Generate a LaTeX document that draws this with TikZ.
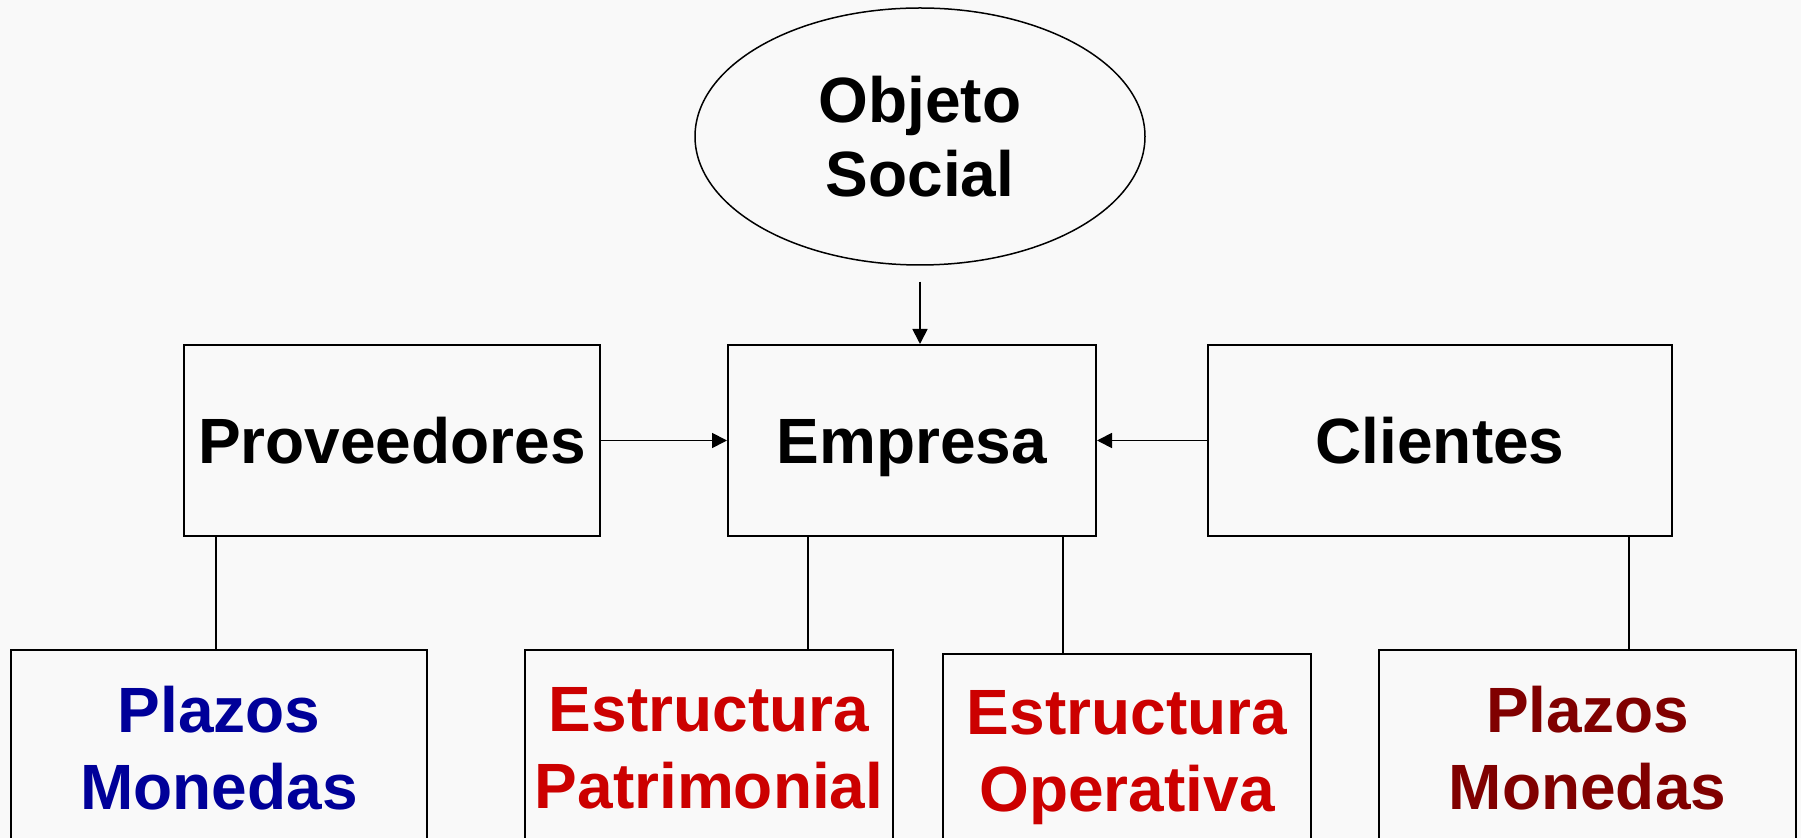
\documentclass[tikz,border=0pt]{standalone}
\usepackage{fontspec}
\setmainfont{Liberation Sans}
\usetikzlibrary{shapes.geometric,arrows.meta}
\definecolor{azulplazo}{RGB}{0,0,153}
\definecolor{rojoestr}{RGB}{204,0,0}
\definecolor{granateplazo}{RGB}{128,0,0}
\definecolor{fondo}{RGB}{249,249,249}

\begin{document}
\begin{tikzpicture}[x=0.5pt,y=-0.5pt,
  >={Triangle[length=7.5pt,width=7.5pt]},
  letra/.style={font=\bfseries\fontsize{32}{38.5}\selectfont},
  caja/.style={letra,draw,line width=1pt,inner sep=0pt,minimum height=95.5pt,text height=23.3pt,text depth=0pt},
  abajo/.style={letra,draw,line width=1pt,inner sep=0pt,anchor=north,minimum height=98pt,align=center},
  linea/.style={line width=0.9pt}]
\fill[fondo] (0,0) rectangle (1801,838);
\useasboundingbox (0,0) rectangle (1801,838);
\node[draw,ellipse,line width=0.75pt,inner sep=0pt,minimum width=225pt,minimum height=128.5pt,align=center,font=\bfseries\fontsize{32}{37}\selectfont] (obj) at (920,136.5) {Objeto\\Social};
\node[caja,minimum width=208pt] (prov) at (392,440.5) {Proveedores};
\node[caja,minimum width=184pt] (emp) at (912,440.5) {Empresa};
\node[caja,minimum width=232pt] (cli) at (1440,440.5) {Clientes};
\node[abajo,minimum width=208pt,text=azulplazo] (plz1) at (219,649) {Plazos\\Monedas};
\node[abajo,minimum width=184pt,text=rojoestr] (estp) at (709,649) {Estructura\\Patrimonial};
\node[abajo,minimum width=184pt,minimum height=104pt,text=rojoestr] (esto) at (1127,653) {Estructura\\Operativa};
\node[abajo,minimum width=208.5pt,text=granateplazo] (plz2) at (1587.5,649) {Plazos\\Monedas};
% flechas hacia la empresa
\draw[linea,->,shorten <=8pt] (obj.south) -- (obj.south |- emp.north);
\draw[linea,->] (prov) -- (emp);
\draw[linea,->] (cli) -- (emp);
% lineas hacia abajo
\draw[linea] ([xshift=-1.5pt]plz1.north) -- ([xshift=-1.5pt]plz1.north |- prov.south);
\draw[linea] ([xshift=49.5pt]estp.north) -- ([xshift=49.5pt]estp.north |- emp.south);
\draw[linea] ([xshift=-32pt]esto.north) -- ([xshift=-32pt]esto.north |- emp.south);
\draw[linea] ([xshift=20.75pt]plz2.north) -- ([xshift=20.75pt]plz2.north |- cli.south);
\end{tikzpicture}
\end{document}
